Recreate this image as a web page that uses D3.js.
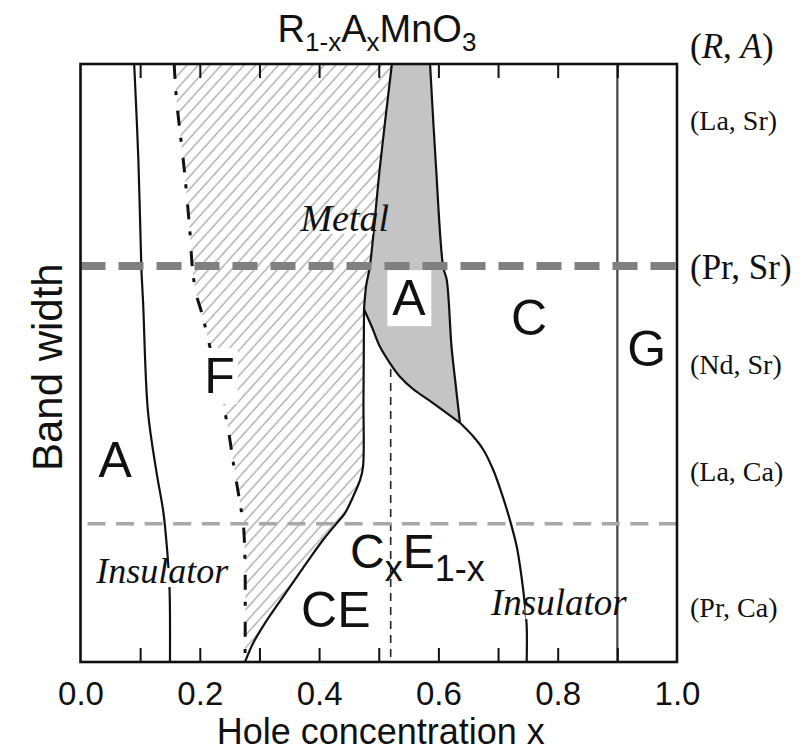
<!DOCTYPE html>
<html>
<head>
<meta charset="utf-8">
<script src="https://cdn.jsdelivr.net/npm/d3@7"></script>
<style>
  html, body { margin: 0; padding: 0; background: #fff; }
  svg { display: block; }
  .sans { font-family: "Liberation Sans", Arial, Helvetica, sans-serif; fill: #111; }
  .serif { font-family: "Liberation Serif", "Times New Roman", Times, serif; fill: #111; }
  .phase { font-size: 50px; }
  .italic { font-style: italic; }
</style>
</head>
<body>
<div id="chart"></div>
<script>
// x = hole concentration, u = relative band width (0 = bottom, 1 = top of frame)
const af_boundary = [[0.090, 1.0], [0.097, 0.84], [0.102, 0.66], [0.105, 0.60], [0.113, 0.42],
  [0.127, 0.32], [0.139, 0.25], [0.145, 0.19], [0.149, 0.13], [0.150, 0.08], [0.150, 0]];
const f_boundary = [[0.157, 1.0], [0.161, 0.94], [0.1735, 0.828], [0.1836, 0.717], [0.1874, 0.661],
  [0.1936, 0.617], [0.2032, 0.584], [0.2116, 0.550], [0.2238, 0.497], [0.2367, 0.443],
  [0.2478, 0.388], [0.2562, 0.333], [0.2657, 0.276], [0.2702, 0.249], [0.2729, 0.232],
  [0.2758, 0.166], [0.2758, 0]];
const metal_left = [[0.522, 1.0], [0.502, 0.828], [0.485, 0.661], [0.479, 0.630], [0.4753, 0.590]];
const ce_boundary = [[0.4753, 0.590], [0.4744, 0.438], [0.4736, 0.326], [0.4686, 0.304], [0.4568, 0.276],
  [0.4434, 0.249], [0.4295, 0.232], [0.4065, 0.204], [0.3792, 0.166], [0.3395, 0.109],
  [0.3093, 0.065], [0.2897, 0.032], [0.2758, 0]];
const a_metal_bottom = [[0.4753, 0.590], [0.4882, 0.561], [0.5021, 0.527], [0.5189, 0.4995],
  [0.5356, 0.477], [0.5574, 0.4565], [0.591, 0.433], [0.6362, 0.400]];
const a_metal_right = [[0.586, 1.0], [0.596, 0.828], [0.608, 0.661], [0.614, 0.639],
  [0.622, 0.527], [0.628, 0.472], [0.6362, 0.400]];
const c_boundary = [[0.6362, 0.400], [0.6585, 0.377], [0.6753, 0.355], [0.692, 0.321], [0.7061, 0.282],
  [0.720, 0.237], [0.7313, 0.193], [0.7397, 0.140], [0.745, 0.095], [0.748, 0.06], [0.748, 0]];
const cxe_divider = [[0.52, 0.49], [0.52, 0]];
const g_boundary = [[0.9, 1.0], [0.9, 0]];

const pr_sr_level = 0.662;
const pr_ca_level = 0.231;

const x_ticks = [0, 0.1, 0.2, 0.3, 0.4, 0.5, 0.6, 0.7, 0.8, 0.9, 1.0];
const x_tick_labels = ["0.0", "", "0.2", "", "0.4", "", "0.6", "", "0.8", "", "1.0"];

const compounds = ["(La, Sr)", "(Pr, Sr)", "(Nd, Sr)", "(La, Ca)", "(Pr, Ca)"];
const compound_levels = [0.904, 0.660, 0.497, 0.318, 0.091];

const phase_names = ["A", "F", "A", "C", "G", "CE"];
const phase_pos = [[0.058, 0.309], [0.233, 0.450], [0.5507, 0.580], [0.752, 0.547], [0.949, 0.495], [0.428, 0.0585]];

const width = 806, height = 753;
const svg = d3.select("#chart").append("svg")
  .attr("width", width).attr("height", height);

const x = d3.scaleLinear().domain([0, 1]).range([80.5, 677]);
const y = d3.scaleLinear().domain([0, 1]).range([662, 64]);

const line = d3.line().x(d => x(d[0])).y(d => y(d[1])).curve(d3.curveCatmullRom.alpha(0.5));
const straight = d3.line().x(d => x(d[0])).y(d => y(d[1]));

// joins several boundaries into one closed outline
function outline(parts) {
  return parts.map((p, i) => {
    const s = line(p);
    return i === 0 ? s : "L" + s.slice(1);
  }).join("") + "Z";
}

const defs = svg.append("defs");
defs.append("clipPath").attr("id", "frame")
  .append("rect").attr("x", x(0)).attr("y", y(1))
  .attr("width", x(1) - x(0)).attr("height", y(0) - y(1));

const hatch = defs.append("pattern").attr("id", "hatch")
  .attr("patternUnits", "userSpaceOnUse")
  .attr("width", 20).attr("height", 8.5)
  .attr("patternTransform", "rotate(-48)");
hatch.append("line").attr("x1", 0).attr("x2", 20).attr("y1", 4).attr("y2", 4)
  .attr("stroke", "#a6a6a6").attr("stroke-width", 1.3);

const plot = svg.append("g").attr("clip-path", "url(#frame)");

// hatched metallic F region
plot.append("path")
  .attr("d", outline([f_boundary, ce_boundary.slice().reverse(), metal_left.slice().reverse()]))
  .attr("fill", "url(#hatch)");

// metallic A-type region
plot.append("path")
  .attr("d", outline([metal_left, a_metal_bottom, a_metal_right.slice().reverse()]))
  .attr("fill", "#c4c4c4");

const solid = [af_boundary, metal_left, ce_boundary, a_metal_bottom, a_metal_right, c_boundary];
plot.selectAll("path.boundary").data(solid).enter().append("path")
  .attr("class", "boundary")
  .attr("d", d => line(d))
  .attr("fill", "none").attr("stroke", "#111").attr("stroke-width", 2.2);

plot.append("path").attr("d", line(f_boundary))
  .attr("fill", "none").attr("stroke", "#111").attr("stroke-width", 3)
  .attr("stroke-dasharray", "15,12,4,16");

plot.append("path").attr("d", straight(cxe_divider))
  .attr("fill", "none").attr("stroke", "#222").attr("stroke-width", 1.6)
  .attr("stroke-dasharray", "8,6");

plot.append("path").attr("d", straight(g_boundary))
  .attr("fill", "none").attr("stroke", "#444").attr("stroke-width", 2.2);

plot.append("line")
  .attr("x1", x(0)).attr("x2", x(1)).attr("y1", y(pr_ca_level)).attr("y2", y(pr_ca_level))
  .attr("stroke", "#a8a8a8").attr("stroke-width", 3.5)
  .attr("stroke-dasharray", "18,10.57").attr("stroke-dashoffset", -7);

plot.append("line")
  .attr("x1", x(0)).attr("x2", x(1)).attr("y1", y(pr_sr_level)).attr("y2", y(pr_sr_level))
  .attr("stroke", "#808080").attr("stroke-width", 8)
  .attr("stroke-dasharray", "25,13");

// labels, some on a white box that hides what is under them
function label(parent, str, xv, uv, cls, anchor, pad) {
  const t = parent.append("text").attr("class", cls)
    .attr("x", x(xv)).attr("y", y(uv)).attr("text-anchor", anchor).text(str);
  if (pad) {
    const b = t.node().getBBox();
    parent.insert("rect", () => t.node())
      .attr("x", b.x - pad[0]).attr("y", b.y - pad[1])
      .attr("width", b.width + 2 * pad[0]).attr("height", b.height + 2 * pad[1])
      .attr("fill", "#fff");
  }
  return t;
}

const labels = svg.append("g");
phase_names.forEach((name, i) => {
  const pad = i === 1 ? [3, 0] : i === 2 ? [5, 0] : null;
  label(labels, name, phase_pos[i][0], phase_pos[i][1], "sans phase", "middle", pad);
});

label(labels, "Metal", 0.443, 0.721, "serif italic", "middle", [9, 0]).style("font-size", "38px");
label(labels, "Insulator", 0.137, 0.132, "serif italic", "middle", [3, 1]).style("font-size", "36px");
label(labels, "Insulator", 0.802, 0.0786, "serif italic", "middle", [3, 1]).style("font-size", "37px");

// C_x E_1-x
const cxe = labels.append("text").attr("class", "sans phase")
  .attr("x", x(0.452)).attr("y", y(0.157)).style("font-size", "48px");
cxe.append("tspan").text("C");
cxe.append("tspan").attr("dy", 13).style("font-size", "36px").text("x");
cxe.append("tspan").attr("dy", -13).text("E");
cxe.append("tspan").attr("dy", 13).style("font-size", "36px").text("1-x");

// frame
svg.append("rect")
  .attr("x", x(0)).attr("y", y(1))
  .attr("width", x(1) - x(0)).attr("height", y(0) - y(1))
  .attr("fill", "none").attr("stroke", "#111").attr("stroke-width", 2.6);

// axes
const xAxis = svg.append("g")
  .attr("transform", `translate(0,${y(0)})`)
  .call(d3.axisBottom(x).tickValues(x_ticks).tickSize(-14).tickPadding(20)
    .tickFormat((d, i) => x_tick_labels[i]));
xAxis.select(".domain").remove();
xAxis.selectAll(".tick line").attr("stroke", "#111").attr("stroke-width", 2)
  .filter(d => d === 0 || d === 1).remove();
xAxis.selectAll(".tick text")
  .attr("class", "sans").style("font-size", "33px").attr("fill", "#111");

const topAxis = svg.append("g")
  .attr("transform", `translate(0,${y(1)})`)
  .call(d3.axisTop(x).tickValues(x_ticks).tickSize(-14).tickFormat(""));
topAxis.select(".domain").remove();
topAxis.selectAll(".tick line").attr("stroke", "#111").attr("stroke-width", 2)
  .filter(d => d === 0 || d === 1).remove();

svg.append("text").attr("class", "sans")
  .attr("x", (x(0) + x(1)) / 2 + 2).attr("y", 744)
  .attr("text-anchor", "middle").style("font-size", "36px")
  .text("Hole concentration x");

svg.append("text").attr("class", "sans")
  .attr("transform", `translate(62,${y(0.493)}) rotate(-90)`)
  .attr("text-anchor", "middle").style("font-size", "42px")
  .text("Band width");

// title
const title = svg.append("text").attr("class", "sans")
  .attr("x", 377).attr("y", 42).attr("text-anchor", "middle").style("font-size", "38px");
title.append("tspan").text("R");
title.append("tspan").attr("dy", 9).style("font-size", "26px").text("1-x");
title.append("tspan").attr("dy", -9).text("A");
title.append("tspan").attr("dy", 9).style("font-size", "26px").text("x");
title.append("tspan").attr("dy", -9).text("MnO");
title.append("tspan").attr("dy", 9).style("font-size", "26px").text("3");

// compound scale on the right
const side = svg.append("g");
const ra = side.append("text").attr("class", "serif")
  .attr("x", 690).attr("y", 58).style("font-size", "35px");
ra.append("tspan").text("(");
ra.append("tspan").style("font-style", "italic").text("R");
ra.append("tspan").text(", ");
ra.append("tspan").style("font-style", "italic").text("A");
ra.append("tspan").text(")");

side.selectAll("text.compound").data(compounds).enter().append("text")
  .attr("class", "serif compound")
  .attr("x", 690)
  .attr("y", (d, i) => y(compound_levels[i]))
  .attr("dy", "0.32em")
  .style("font-size", d => d === "(Pr, Sr)" ? "35px" : "28px")
  .text(d => d);
</script>
</body>
</html>
